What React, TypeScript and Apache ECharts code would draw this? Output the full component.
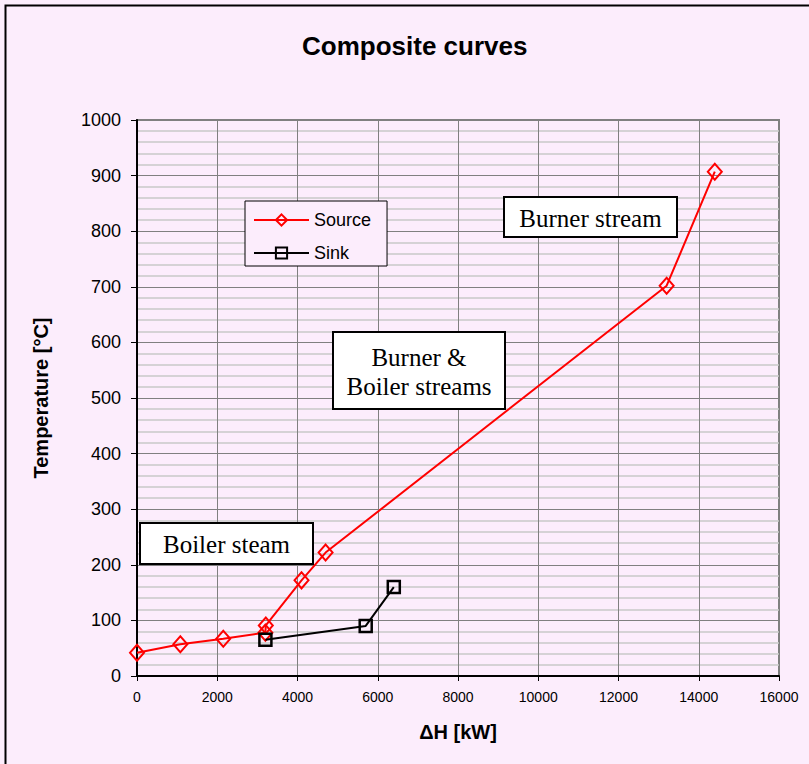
import React, { useEffect, useRef } from "react";
import * as echarts from "echarts";

const sourceX = [0, 1080, 2150, 3200, 3210, 4100, 4700, 13200, 14400];
const sourceY = [42, 57, 67, 78, 91, 172, 222, 702, 907];
const sinkX = [3200, 5700, 6400];
const sinkY = [65, 90, 160];
const xTicks = { min: 0, max: 16000, interval: 2000 };
const yTicks = { min: 0, max: 1000, interval: 100 };

const BG = "#FCEDFC";
const SANS = "'Liberation Sans', Arial, sans-serif";

export default function App() {
  const ref = useRef<HTMLDivElement>(null);
  useEffect(() => {
    document.body.style.margin = "0";
    const chart = echarts.init(ref.current!, null, { renderer: "svg" });
    const boxStyle = (text: string, x: number, y: number, w: number, h: number) => ({
      type: "group",
      left: x,
      top: y,
      z: 50,
      children: [
        {
          type: "rect",
          z: 50,
          shape: { x: 0, y: 0, width: w, height: h },
          style: { fill: "#fff", stroke: "#000", lineWidth: 2 },
        },
        {
          type: "text",
          z: 51,
          x: w / 2,
          y: h / 2 + 1,
          style: {
            text,
            fill: "#000",
            font: "25px 'Liberation Serif', 'DejaVu Serif', serif",
            align: "center",
            verticalAlign: "middle",
            lineHeight: 29,
          },
        },
      ],
    });
    chart.setOption({
      animation: false,
      backgroundColor: BG,
      title: {
        text: "Composite curves",
        left: 297,
        top: 28,
        textStyle: { fontFamily: SANS, fontWeight: "bold", fontSize: 26, color: "#000" },
      },
      grid: {
        left: 137,
        top: 120,
        right: 30,
        bottom: 88,
        show: true,
        backgroundColor: "transparent",
        borderColor: "#808080",
        borderWidth: 2,
      },
      legend: {
        left: 245,
        top: 201,
        orient: "vertical",
        backgroundColor: BG,
        borderColor: "#000",
        borderWidth: 1,
        padding: [10, 16, 4, 8],
        itemGap: 15,
        itemWidth: 55,
        itemHeight: 14,
        z: 20,
        textStyle: { fontFamily: SANS, fontSize: 18, color: "#000" },
        data: ["Source", "Sink"],
      },
      xAxis: {
        type: "value",
        min: xTicks.min,
        max: xTicks.max,
        interval: xTicks.interval,
        name: "\u0394H [kW]",
        nameLocation: "middle",
        nameGap: 46,
        nameTextStyle: { fontFamily: SANS, fontWeight: "bold", fontSize: 20, color: "#000" },
        axisLine: { show: true, lineStyle: { color: "#000", width: 2 } },
        axisTick: { show: true, length: 5, lineStyle: { color: "#000" } },
        axisLabel: {
          margin: 14,
          fontFamily: SANS,
          fontSize: 14,
          color: "#000",
          formatter: (v: number) => String(v),
        },
        splitLine: { show: true, lineStyle: { color: "#808080", width: 1 } },
      },
      yAxis: {
        type: "value",
        min: yTicks.min,
        max: yTicks.max,
        interval: yTicks.interval,
        name: "Temperature [\u00b0C]",
        nameLocation: "middle",
        nameGap: 86,
        nameTextStyle: { fontFamily: SANS, fontWeight: "bold", fontSize: 20, color: "#000" },
        axisLine: { show: true, lineStyle: { color: "#000", width: 2 } },
        axisTick: { show: true, length: 6, lineStyle: { color: "#000" } },
        axisLabel: {
          margin: 16,
          fontFamily: SANS,
          fontSize: 18,
          color: "#000",
          formatter: (v: number) => String(v),
        },
        splitLine: { show: true, lineStyle: { color: "#808080", width: 1 } },
        minorTick: { show: false, splitNumber: 5 },
        minorSplitLine: { show: true, lineStyle: { color: "#c8c8c8", width: 1.5 } },
      },
      series: [
        {
          name: "Source",
          type: "line",
          data: sourceX.map((x, i) => [x, sourceY[i]]),
          symbol: "diamond",
          symbolSize: [14, 16],
          lineStyle: { color: "#ff0000", width: 2 },
          itemStyle: { color: "rgba(0,0,0,0)", borderColor: "#ff0000", borderWidth: 2 },
          z: 3,
        },
        {
          name: "Sink",
          type: "line",
          data: sinkX.map((x, i) => [x, sinkY[i]]),
          symbol: "rect",
          symbolSize: 12,
          lineStyle: { color: "#000", width: 2 },
          itemStyle: { color: "rgba(0,0,0,0)", borderColor: "#000", borderWidth: 2.5 },
          z: 4,
        },
      ],
      graphic: [
        boxStyle("Burner stream", 503, 196, 173, 40),
        boxStyle("Burner &\nBoiler streams", 332, 331, 172, 77),
        boxStyle("Boiler steam", 139, 522, 173, 41),
        {
          type: "rect",
          left: 3,
          top: 3,
          z: 60,
          shape: { x: 0, y: 0, width: 812, height: 770 },
          style: { fill: "none", stroke: "#000", lineWidth: 2 },
          silent: true,
        },
      ],
    });
    return () => chart.dispose();
  }, []);
  return <div ref={ref} style={{ width: 809, height: 764 }} />;
}
